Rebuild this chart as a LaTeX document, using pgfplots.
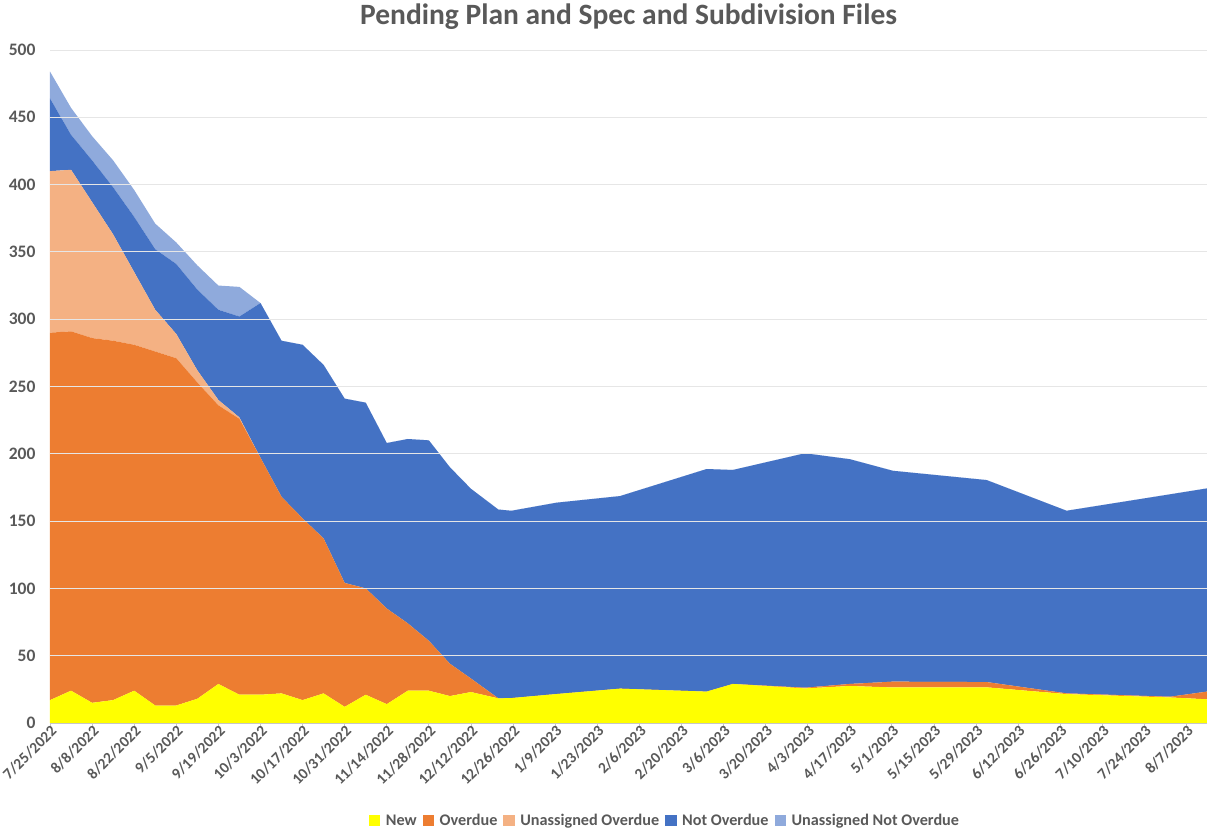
\documentclass[border=0pt]{standalone}
\usepackage{pgfplots}
\pgfplotsset{compat=1.18}
\usepackage{pgfplotstable}
\usepackage{fontspec}
\setmainfont{Carlito}
\definecolor{txtgray}{HTML}{595959}
\definecolor{cnew}{HTML}{FFFF00}
\definecolor{cover}{HTML}{ED7D31}
\definecolor{cuover}{HTML}{F4B183}
\definecolor{cnover}{HTML}{4472C4}
\definecolor{cunover}{HTML}{8FAADC}
\definecolor{gridgray}{HTML}{E6E6E6}

\pgfplotstableread{
x     new   over  uover nover unover
0     17    273   120   54    20
7     24    267   120   26    20
14    15    271   101   31    18
21    17    267   79    35    20
28    24    257   54    41    20
35    13    263   31    45    19
42    13    258   18    52    16
49    18    235   9     60    18
56    29    207   4     67    18
63    21    205   1     75    22
70    21    176   0     115   0
77    22    146   0     116   0
84    17    135   0     129   0
91    22    115   0     129   0
98    12    92    0     137   0
105   21    79    0     138   0
112   14    71    0     123   0
119   24    50    0     137   0
126   24    37    0     149   0
133   20    24    0     146   0
140   23    10    0     141   0
149.1 18.3  0     0     140.3 0
153.5 18.5  0     0     139.2 0
168.5 21.5  0     0     142.2 0
189.6 25.5  0     0     143.1 0
218.4 23.3  0     0     165.4 0
227.1 29    0     0     159   0
251.1 25.7  0.5   0     174.2 0
266   27.5  1.5   0     167   0
280.3 26.4  4.3   0     156.7 0
311.5 26.5  3.9   0     150.1 0
338.1 21.5  0.5   0     135.7 0
372.5 19    0.5   0     150.4 0
384.8 17.6  5.7   0     151   0
}\data

\begin{document}
\begin{tikzpicture}
\begin{axis}[
  name=ax,
  at={(0,0)}, anchor=south west,
  scale only axis,
  width=1157pt, height=673pt,
  xmin=0, xmax=384.8,
  ymin=0, ymax=500,
  stack plots=y,
  area style,
  axis lines*=left,
  y axis line style={draw=none},
  x axis line style={draw=gray!45, line width=0.8pt},
  ytick={0,50,...,500},
  ytick style={draw=none},
  xtick={0,14,...,378},
  xticklabels={7/25/2022,8/8/2022,8/22/2022,9/5/2022,9/19/2022,10/3/2022,10/17/2022,10/31/2022,11/14/2022,11/28/2022,12/12/2022,12/26/2022,1/9/2023,1/23/2023,2/6/2023,2/20/2023,3/6/2023,3/20/2023,4/3/2023,4/17/2023,5/1/2023,5/15/2023,5/29/2023,6/12/2023,6/26/2023,7/10/2023,7/24/2023,8/7/2023},
  xtick style={draw=gray!45, line width=0.8pt},
  tick align=outside,
  major tick length=5pt,
  ymajorgrids,
  grid style={gridgray, line width=0.9pt},
  /pgf/number format/assume math mode=true,
  yticklabel style={font=\bfseries\fontsize{17.5}{20}\selectfont, text=txtgray, xshift=-6pt},
  xticklabel style={font=\bfseries\fontsize{15.5}{18}\selectfont, text=txtgray, rotate=45, anchor=east, xshift=6pt, yshift=-3pt},
  title={Pending Plan and Spec and Subdivision Files},
  title style={font=\bfseries\fontsize{29.5}{34}\selectfont, text=txtgray, at={(0.5,1)}, anchor=base, yshift=19pt},
  legend columns=5,
  legend style={at={(0.5315,-0.1456)}, anchor=center, draw=none, fill=none,
    font=\bfseries\fontsize{16.2}{19}\selectfont, text=txtgray,
    /tikz/every odd column/.append style={column sep=3.5pt},
    /tikz/every even column/.append style={column sep=4pt},
    inner sep=0pt},
  legend image code/.code={\fill[#1] (0pt,-5.5pt) rectangle (11.5pt,6pt);},
]
\addplot[fill=cnew, draw=none] table[x=x, y=new] {\data} \closedcycle;
\addlegendentry{New}
\addplot[fill=cover, draw=none] table[x=x, y=over] {\data} \closedcycle;
\addlegendentry{Overdue}
\addplot[fill=cuover, draw=none] table[x=x, y=uover] {\data} \closedcycle;
\addlegendentry{Unassigned Overdue}
\addplot[fill=cnover, draw=none] table[x=x, y=nover] {\data} \closedcycle;
\addlegendentry{Not Overdue}
\addplot[fill=cunover, draw=none] table[x=x, y=unover] {\data} \closedcycle;
\addlegendentry{Unassigned Not Overdue}
\end{axis}
\pgfresetboundingbox
\useasboundingbox (-50pt,-107pt) rectangle (1157pt,723pt);
\end{tikzpicture}
\end{document}
